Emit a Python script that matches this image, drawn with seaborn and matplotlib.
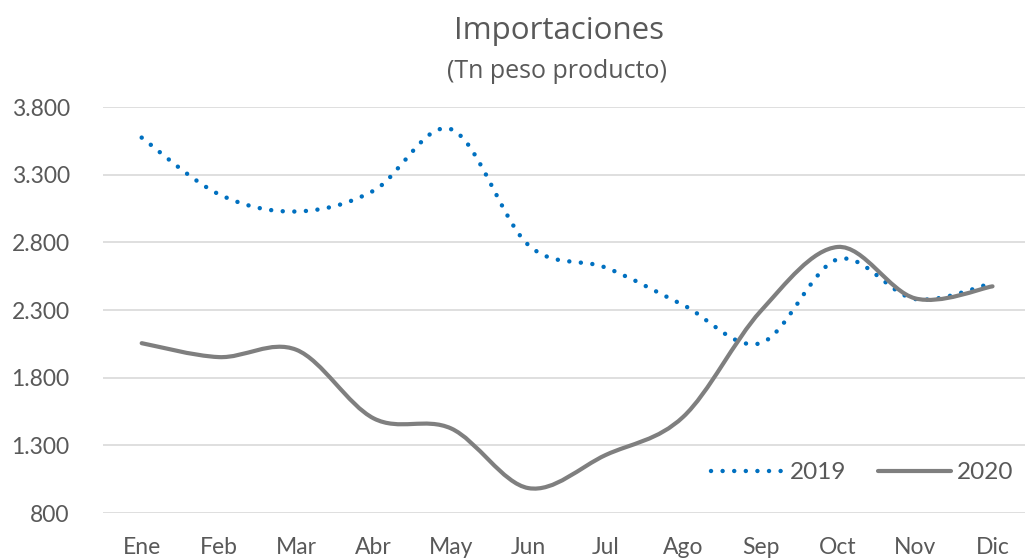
import numpy as np
import pandas as pd
import matplotlib
matplotlib.use("Agg")
import matplotlib.pyplot as plt
import seaborn as sns
from matplotlib.path import Path
from matplotlib.patches import PathPatch
from matplotlib.lines import Line2D

meses = ["Ene", "Feb", "Mar", "Abr", "May", "Jun", "Jul", "Ago", "Sep", "Oct", "Nov", "Dic"]
imp_2019 = [3574, 3155, 3028, 3182, 3636, 2780, 2613, 2337, 2055, 2675, 2381, 2499]
imp_2020 = [2055, 1952, 2006, 1499, 1425, 984, 1229, 1510, 2290, 2766, 2386, 2475]
y_ticks = [800, 1300, 1800, 2300, 2800, 3300, 3800]

sns.set_style("white")
plt.rcParams['font.family'] = ['Lato', 'DejaVu Sans']
txt_col = "#595959"

df = pd.DataFrame({
    "mes": list(range(12)) * 2,
    "valor": imp_2019 + imp_2020,
    "serie": ["2019"] * 12 + ["2020"] * 12,
})

fig = plt.figure(figsize=(10.25, 5.6), dpi=100)
ax = fig.add_axes([0.1005, 0.0839, 0.8995, 0.7250])

sns.lineplot(data=df, x="mes", y="valor", hue="serie", palette=["#0070C0", "#7F7F7F"],
             ax=ax, legend=False)


def smooth_path(xs, ys):
    # curva suavizada tipo Excel (bezier con tangentes catmull-rom)
    pts = np.column_stack([xs, ys]).astype(float)
    n = len(pts)
    verts = [pts[0]]
    codes = [Path.MOVETO]
    for i in range(n - 1):
        p0 = pts[max(i - 1, 0)]
        p1 = pts[i]
        p2 = pts[i + 1]
        p3 = pts[min(i + 2, n - 1)]
        c1 = p1 + (p2 - p0) / 6.0
        c2 = p2 - (p3 - p1) / 6.0
        verts += [c1, c2, p2]
        codes += [Path.CURVE4] * 3
    return Path(verts, codes)


estilos = [
    dict(color="#0070C0", lw=3.2, ls=(0, (0.01, 2.6)), cap="round"),
    dict(color="#7F7F7F", lw=3.0, ls="-", cap="round"),
]
for line, st in zip(ax.get_lines(), estilos):
    x, y = line.get_data()
    line.set_visible(False)
    patch = PathPatch(smooth_path(x, y), facecolor="none", edgecolor=st["color"],
                      lw=st["lw"], linestyle=st["ls"], capstyle=st["cap"], zorder=3)
    ax.add_patch(patch)

ax.set_xlim(-0.5, 11.42)
ax.set_ylim(800, 3800)
ax.set_xticks(range(12))
ax.set_xticklabels(meses)
ax.set_yticks(y_ticks)
ax.set_yticklabels([f"{v:,}".replace(",", ".") for v in y_ticks])
ax.tick_params(axis="both", length=0, labelsize=16.5, labelcolor=txt_col)
ax.tick_params(axis="x", pad=17)
ax.tick_params(axis="y", pad=24)
ax.grid(axis="y", color="#D9D9D9", lw=1.2)
ax.set_axisbelow(True)
ax.set_xlabel("")
ax.set_ylabel("")
for s in ax.spines.values():
    s.set_visible(False)

handles = [
    Line2D([], [], color="#0070C0", lw=3.2, ls=(0, (0.01, 2.6)), dash_capstyle="round"),
    Line2D([], [], color="#7F7F7F", lw=3.0, solid_capstyle="round"),
]
leg = ax.legend(handles, ["2019", "2020"], loc="lower right", bbox_to_anchor=(1.011, 0.02),
                ncol=2, frameon=False, fontsize=17.5, handlelength=3.0, handletextpad=0.25,
                columnspacing=1.3, labelcolor=txt_col)

fig.text(0.545, 0.944, "Importaciones", ha="center", va="center", fontsize=22.5,
         color=txt_col, family=["Open Sans", "DejaVu Sans"])
fig.text(0.543, 0.873, "(Tn peso producto)", ha="center", va="center", fontsize=18,
         color=txt_col, family=["Open Sans", "DejaVu Sans"])

fig.savefig("out.png", dpi=100)
